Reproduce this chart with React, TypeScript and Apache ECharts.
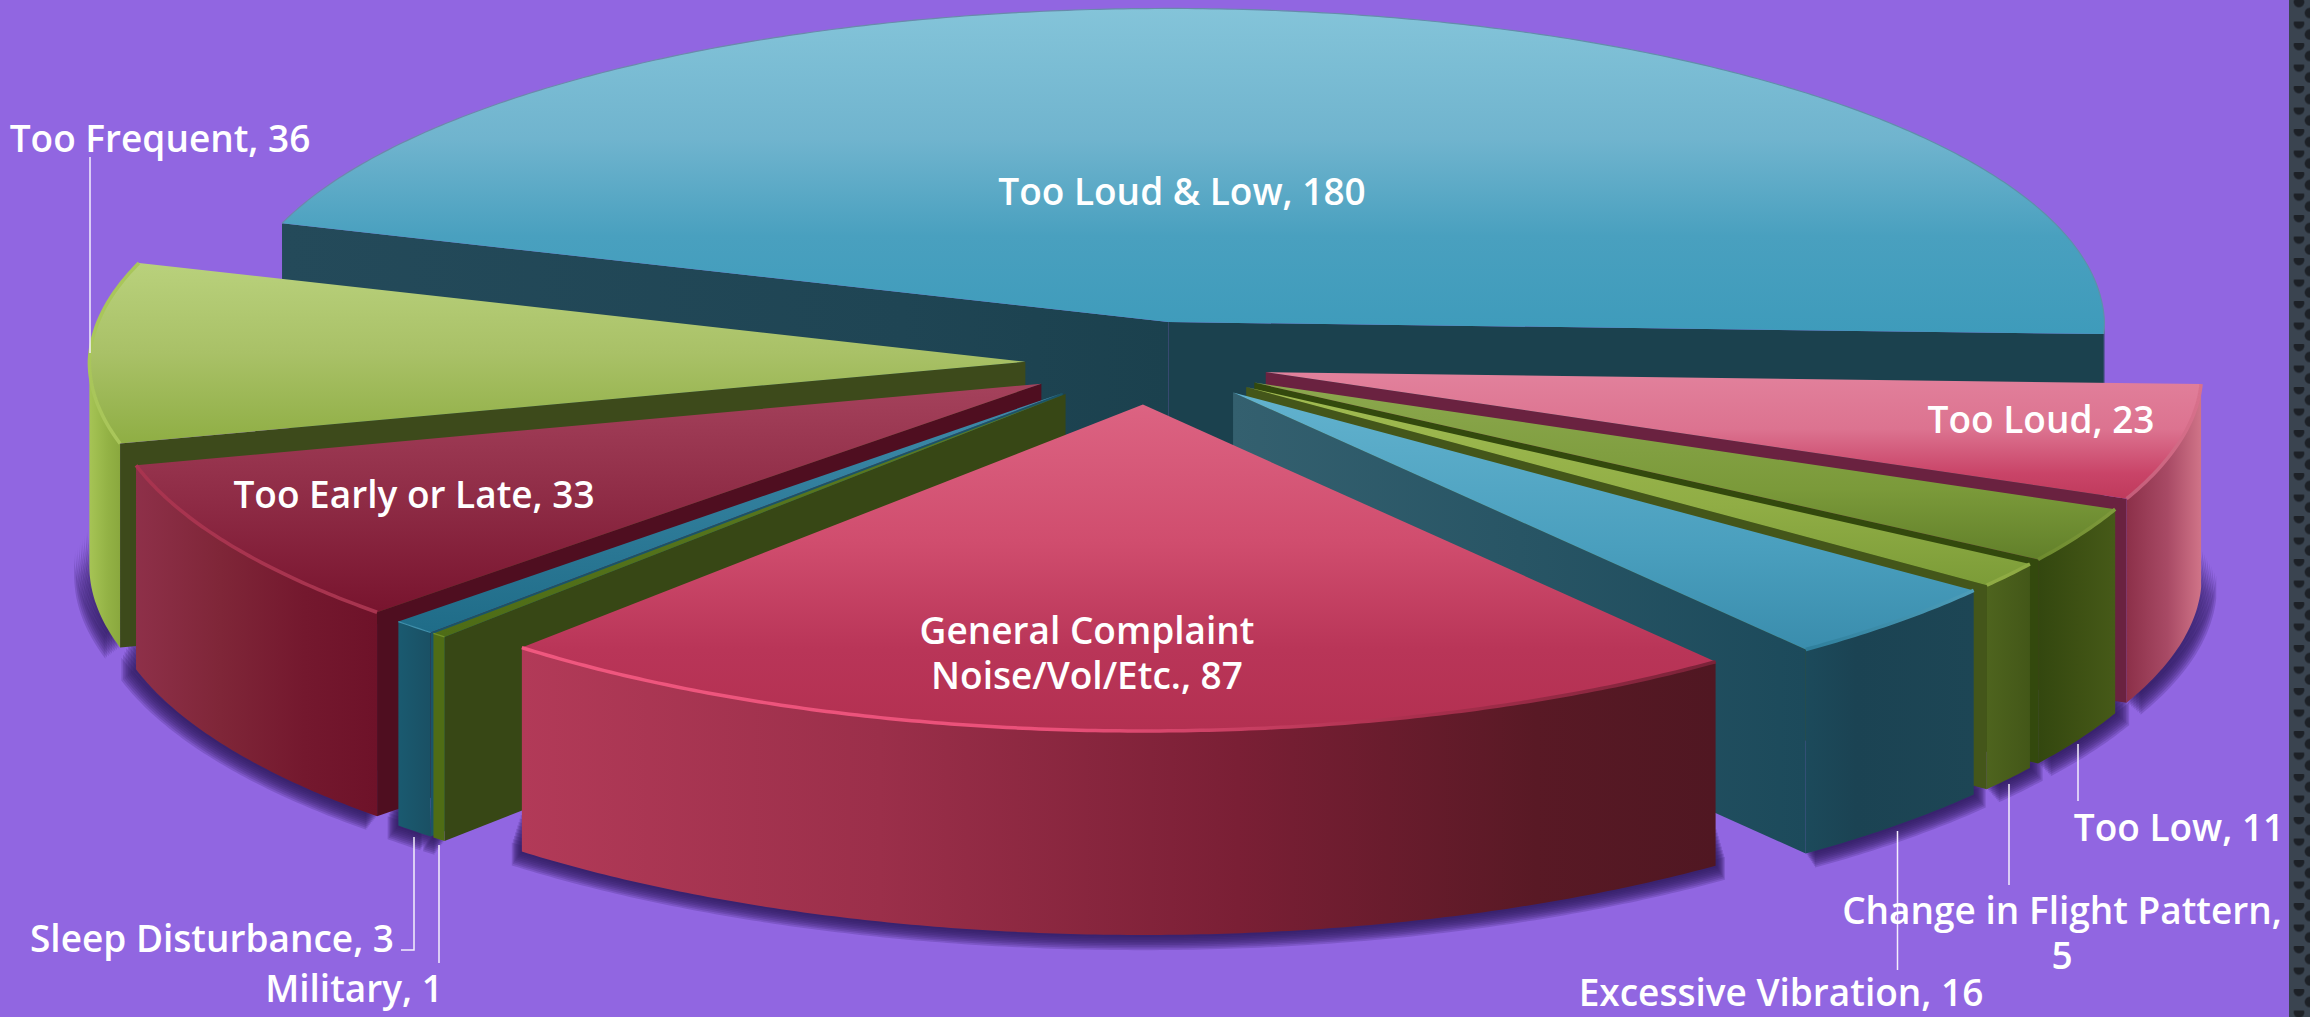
import React, { useEffect, useRef } from "react";
import * as echarts from "echarts";

const CATEGORIES = [
  "Too Loud & Low",
  "Too Loud",
  "Too Low",
  "Change in Flight Pattern",
  "Excessive Vibration",
  "General Complaint Noise/Vol/Etc.",
  "Military",
  "Sleep Disturbance",
  "Too Early or Late",
  "Too Frequent",
];
const VALUES = [180, 23, 11, 5, 16, 87, 1, 3, 33, 36];

// ---- styles, one row per slice ----
type Stops = [number, string][];
const TOP_FILLS: Stops[] = [
  [[0, "#84c4d9"], [0.4, "#70b4ce"], [0.7, "#49a0bf"], [1, "#3e9bbb"]],
  [[0, "#e2819c"], [0.45, "#dc7390"], [0.8, "#c94468"], [1, "#bf3a5c"]],
  [[0, "#8ca84e"], [0.6, "#7b9a3a"], [1, "#62802a"]],
  [[0, "#a2bc52"], [0.6, "#90ad45"], [1, "#7c9c38"]],
  [[0, "#62b2ce"], [0.6, "#4a9fbe"], [1, "#3a8dad"]],
  [[0, "#dc6382"], [0.42, "#d04d6e"], [0.75, "#b93558"], [1, "#b33051"]],
  [[0, "#5d7c22"], [1, "#4e6c16"]],
  [[0, "#3f8cab"], [1, "#1f6c88"]],
  [[0, "#a5425c"], [0.5, "#8f2c46"], [1, "#78142e"]],
  [[0, "#b9d17c"], [0.5, "#a9c167"], [1, "#8fae44"]],
];
const WALL_A: (string | Stops)[] = [
  [[0, "#244a5a"], [0.7, "#1f4554"], [1, "#1b414e"]],
  "#000", "#000", "#000", "#000", "#000",
  "#374715", "#1a5468", "#4f0e20", "#3d4a1b",
];
const WALL_B: (string | Stops)[] = [
  "#1b414e",
  "#6a2240",
  "#33490d",
  "#44561a",
  [[0, "#34606f"], [1, "#1c4a5b"]],
  "#000",
  "#000",
  "#000",
  "#000",
  "#000",
];
const ARC_FILLS: Stops[] = [
  [[0, "#1b414e"], [1, "#1b414e"]],
  [[0, "#8c3049"], [0.55, "#a84a65"], [1, "#d07488"]],
  [[0, "#33470f"], [0.5, "#3d5013"], [1, "#465a18"]],
  [[0, "#4e641e"], [1, "#435718"]],
  [[0, "#1c4a5b"], [0.3, "#1b4353"], [1, "#1d4655"]],
  [[0, "#b23a58"], [0.3, "#9b2f4a"], [0.6, "#7a1f35"], [0.85, "#591925"], [1, "#501722"]],
  [[0, "#4f6c15"], [1, "#4f6c15"]],
  [[0, "#1a5a70"], [1, "#1a5064"]],
  [[0, "#8e3049"], [0.35, "#7f2638"], [0.7, "#74182e"], [1, "#6e1229"]],
  [[0, "#a6c455"], [0.6, "#93b245"], [1, "#8aa83e"]],
];
const RIMS: Stops[] = [
  [[0, "#6f86ac"], [1, "#5f8eaa"]],
  [[0, "#c45c78"], [1, "#d8718c"]],
  [[0, "#6d8a2e"], [1, "#7f9a3c"]],
  [[0, "#8fab44"], [1, "#8fab44"]],
  [[0, "#2f7f9c"], [1, "#4d9db9"]],
  [[0, "#f0587f"], [0.45, "#ea5079"], [0.75, "#a92f4d"], [1, "#7a2238"]],
  [[0, "#6f8f28"], [1, "#6f8f28"]],
  [[0, "#3f90ac"], [1, "#3f90ac"]],
  [[0, "#a8344f"], [1, "#a8344f"]],
  [[0, "#a9c65a"], [1, "#a9c65a"]],
];

// ---- labels: text composed from the data, placement kept apart ----
const LABEL_SEPARATORS = [", ", ", ", ", ", ",\n", ", ", ", ", ", ", ", ", ", ", ", "];
const LABEL_WRAPPED_NAMES: Record<string, string> = {
  "General Complaint Noise/Vol/Etc.": "General Complaint\nNoise/Vol/Etc.",
};
const LABEL_POSITIONS = [
  [1182, 190], [2041, 418], [2179, 826], [2062, 932], [1781, 991],
  [1087, 652], [354, 987], [212, 937], [414, 493], [160, 137],
];
const LEADERS = [
  [[90, 157], [90, 353]],
  [[414, 837], [414, 950], [401, 950]],
  [[439, 845], [439, 963]],
  [[1897.5, 831], [1897.5, 970]],
  [[2009, 784], [2009, 885]],
  [[2078, 744], [2078, 801]],
];

// ---- the projected pie ----
const CX = 1147;
const CY = 363;
const RX = 936;
const RY = 320;
const HEIGHT = 204;
const EXPLODE = 0.13;
const START_ANGLE = -71.9;
const SHADOW_LAYERS = 9;
const TOTAL = VALUES.reduce((a, b) => a + b, 0);
const rad = (d: number) => (d * Math.PI) / 180;

const sliceAngles = VALUES.reduce<[number, number][]>((acc, v) => {
  const a = acc.length ? acc[acc.length - 1][1] : START_ANGLE;
  acc.push([a, a + (v / TOTAL) * 360]);
  return acc;
}, []);

function gradient(stops: Stops, horizontal: boolean) {
  return new echarts.graphic.LinearGradient(
    0, 0, horizontal ? 1 : 0, horizontal ? 0 : 1,
    stops.map(([offset, color]) => ({ offset, color }))
  );
}

function rimPoint(ax: number, ay: number, deg: number, scale = 1) {
  const c = Math.cos(rad(deg));
  const ry = RY * (1 - 0.02 * c);
  const rx = RX * (1 - 0.012 * Math.max(c, 0));
  return [ax + rx * scale * Math.sin(rad(deg)), ay - ry * scale * c];
}

function arcPoints(ax: number, ay: number, from: number, to: number, scale = 1) {
  const pts: number[][] = [];
  const steps = Math.max(2, Math.ceil(to - from) * 2);
  for (let s = 0; s <= steps; s++) pts.push(rimPoint(ax, ay, from + ((to - from) * s) / steps, scale));
  return pts;
}

const down = (pts: number[][], dy: number) => pts.map(([x, y]) => [x, y + dy]);

function renderSlice(params: any) {
  const i = params.dataIndex as number;
  const [a, b] = sliceAngles[i];
  const mid = (a + b) / 2;
  const ax = CX + EXPLODE * RX * Math.sin(rad(mid));
  const ay = CY - EXPLODE * RY * Math.cos(rad(mid));
  const depth = -Math.cos(rad(mid));
  const base = Math.round((depth + 1.5) * 1000);
  const children: any[] = [];
  const frontFrom = Math.max(a, 90);
  const frontTo = Math.min(b, 270);

  if (frontTo > frontFrom) {
    for (let k = SHADOW_LAYERS; k >= 1; k--) {
      const so = arcPoints(ax, ay, frontFrom, frontTo, 1 + 0.0018 * k);
      children.push({
        type: "polygon",
        z2: 1,
        silent: true,
        shape: { points: [...down(so, HEIGHT - 40 + 3 * k), ...down(so, HEIGHT + 1.1 * k).reverse()] },
        style: { fill: "#2c1a5e", opacity: 0.2 },
      });
    }
  }

  const apex = [ax, ay];
  if (Math.sin(rad(a)) < 0) {
    const p = rimPoint(ax, ay, a);
    const f = WALL_A[i];
    children.push({
      type: "polygon",
      z2: base,
      silent: true,
      shape: { points: [apex, p, [p[0], p[1] + HEIGHT], [ax, ay + HEIGHT]] },
      style: { fill: typeof f === "string" ? f : gradient(f, true) },
    });
  }
  if (Math.sin(rad(b)) > 0) {
    const p = rimPoint(ax, ay, b);
    const f = WALL_B[i];
    children.push({
      type: "polygon",
      z2: base + 1,
      silent: true,
      shape: { points: [apex, p, [p[0], p[1] + HEIGHT], [ax, ay + HEIGHT]] },
      style: { fill: typeof f === "string" ? f : gradient(f, true) },
    });
  }
  if (frontTo > frontFrom) {
    const arc = arcPoints(ax, ay, frontFrom, frontTo);
    children.push({
      type: "polygon",
      z2: base + 2,
      silent: true,
      shape: { points: [...arc, ...down(arc, HEIGHT).reverse()] },
      style: { fill: gradient(ARC_FILLS[i], true) },
    });
  }
  const top = arcPoints(ax, ay, a, b);
  children.push({
    type: "polygon",
    z2: base + 3,
    silent: true,
    shape: { points: [apex, ...top] },
    style: { fill: gradient(TOP_FILLS[i], false) },
  });
  children.push({
    type: "polyline",
    z2: base + 4,
    silent: true,
    shape: { points: top },
    style: {
      fill: "none",
      stroke: gradient(RIMS[i], true),
      lineWidth: frontTo - frontFrom > 4 ? 3.5 : 1.2,
    },
  });
  return { type: "group", children };
}

export default function App() {
  const ref = useRef<HTMLDivElement>(null);
  useEffect(() => {
    const chart = echarts.init(ref.current!, undefined, { renderer: "svg" });
    const labels = CATEGORIES.map((name, i) => {
      const text = (LABEL_WRAPPED_NAMES[name] || name) + LABEL_SEPARATORS[i] + VALUES[i];
      return {
        type: "text",
        z: 100,
        x: LABEL_POSITIONS[i][0],
        y: LABEL_POSITIONS[i][1],
        silent: true,
        style: {
          text,
          fill: "#ffffff",
          fontFamily: '"Open Sans"',
          fontSize: 37,
          fontWeight: 600,
          lineHeight: text.includes("\n") ? 45 : 40,
          textAlign: "center",
          textVerticalAlign: "middle",
        },
      };
    });
    const leaders = LEADERS.map((points) => ({
      type: "polyline",
      z: 100,
      silent: true,
      shape: { points },
      style: { fill: "none", stroke: "#f4effc", lineWidth: 1.5 },
    }));
    chart.setOption({
      animation: false,
      backgroundColor: "#9166e1",
      series: [
        {
          type: "custom",
          coordinateSystem: "none",
          silent: true,
          data: VALUES.map((value, i) => ({ name: CATEGORIES[i], value })),
          renderItem: renderSlice,
        },
      ],
      graphic: { elements: [...leaders, ...labels] },
    });
    return () => chart.dispose();
  }, []);
  return (
    <div style={{ position: "fixed", left: 0, top: 0, width: 2310, height: 1017, overflow: "hidden" }}>
      <div ref={ref} style={{ width: 2310, height: 1017 }} />
      <div
        style={{
          position: "absolute",
          left: 2289,
          top: 0,
          width: 21,
          height: 1017,
          backgroundColor: "#3a4450",
          backgroundImage:
            "radial-gradient(circle at 10px 2px, #1d2127 0, #1d2127 4.5px, transparent 6px), radial-gradient(circle at 21px 13px, #1d2127 0, #1d2127 4.5px, transparent 6px)",
          backgroundSize: "21px 21.5px",
        }}
      />
    </div>
  );
}
